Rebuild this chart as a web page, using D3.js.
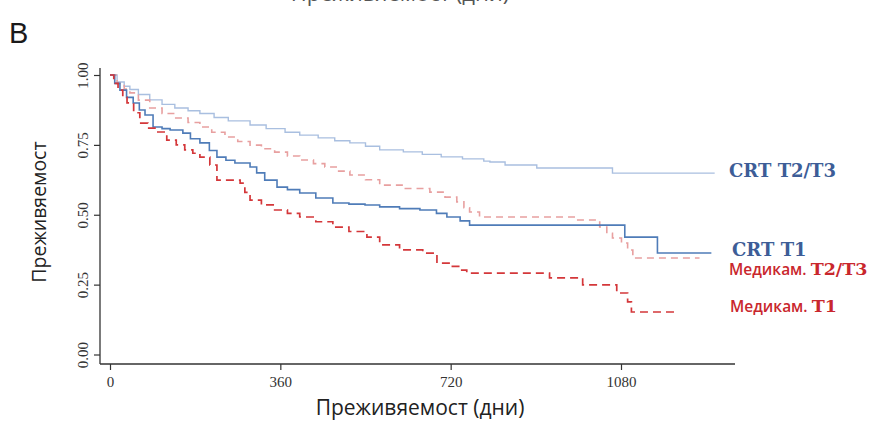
<!doctype html>
<html>
  <head>
    <meta content="text/html;charset=utf-8" http-equiv="Content-Type">
    <script src="https://d3js.org/d3.v7.min.js"></script>
    <style>body{margin:0;background:#fff;}</style>
  </head>
  <body>
    <script>
    // Kaplan-Meier steps: [day, survival]
    var crtT23 = [[0,1],[15,0.975],[30,0.96],[42,0.948],[60,0.93],[84,0.911],[110,0.895],[137,0.882],[165,0.872],
      [190,0.862],[220,0.848],[250,0.836],[296,0.821],[330,0.808],[370,0.795],[401,0.785],[440,0.775],[475,0.765],
      [507,0.757],[540,0.745],[570,0.732],[620,0.725],[660,0.716],[700,0.707],[745,0.7],[790,0.692],[803,0.689],
      [835,0.678],[902,0.667],[1062,0.649],[1278,0.649]];
    var crtT1 = [[0,1],[10,0.97],[21,0.946],[35,0.92],[49,0.9],[62,0.875],[74,0.857],[91,0.814],[110,0.808],
      [127,0.803],[154,0.792],[170,0.772],[190,0.757],[210,0.73],[226,0.706],[245,0.695],[264,0.685],[296,0.671],
      [310,0.65],[327,0.624],[353,0.599],[375,0.59],[401,0.578],[435,0.56],[471,0.542],[505,0.538],[539,0.535],
      [570,0.528],[612,0.522],[655,0.517],[690,0.505],[712,0.492],[740,0.478],[760,0.463],[1088,0.42],[1157,0.363],[1271,0.363]];
    var medT23 = [[0,1],[15,0.97],[30,0.95],[42,0.936],[60,0.91],[84,0.882],[110,0.862],[137,0.846],[165,0.83],
      [190,0.814],[215,0.795],[243,0.778],[270,0.762],[296,0.749],[320,0.736],[348,0.724],[375,0.71],[401,0.696],
      [430,0.683],[454,0.671],[480,0.656],[507,0.642],[540,0.625],[570,0.606],[620,0.594],[676,0.581],[708,0.563],
      [733,0.546],[748,0.525],[760,0.51],[781,0.492],[986,0.481],[1035,0.456],[1050,0.434],[1062,0.417],[1081,0.399],
      [1094,0.374],[1105,0.345],[1246,0.345]];
    var medT1 = [[0,1],[8,0.97],[17,0.946],[27,0.92],[36,0.9],[50,0.865],[63,0.828],[80,0.81],[95,0.796],[120,0.767],
      [140,0.75],[158,0.732],[175,0.72],[190,0.706],[211,0.678],[226,0.624],[275,0.613],[285,0.58],[296,0.552],
      [320,0.535],[348,0.517],[375,0.505],[401,0.492],[435,0.475],[471,0.456],[505,0.44],[543,0.42],[570,0.392],
      [612,0.374],[661,0.363],[691,0.327],[720,0.315],[739,0.302],[754,0.291],[929,0.274],[999,0.249],[1071,0.22],
      [1094,0.188],[1102,0.152],[1195,0.152]];

    var xTicks = [0, 360, 720, 1080];
    var yTicks = [0, 0.25, 0.5, 0.75, 1];
    var yTickLabels = ["0.00", "0.25", "0.50", "0.75", "1.00"];

    var width = 874, height = 422;

    var svg = d3.select("body").append("svg")
      .attr("width", width)
      .attr("height", height);

    var x = d3.scaleLinear().domain([0, 1080]).range([110, 621]);
    var y = d3.scaleLinear().domain([0, 1]).range([354.5, 75]);

    // cropped caption from the panel above
    svg.append("text")
      .attr("x", 400).attr("y", 1)
      .attr("text-anchor", "middle")
      .attr("font-family", "Open Sans").attr("font-size", 22)
      .attr("fill", "#555")
      .text("Преживяемост (дни)");

    svg.append("text")
      .attr("x", 9).attr("y", 43)
      .attr("font-family", "Liberation Sans").attr("font-size", 29)
      .attr("fill", "#1a1a1a")
      .text("B");

    // L shaped frame
    svg.append("line").attr("x1", 100).attr("x2", 100).attr("y1", 68).attr("y2", 364)
      .attr("stroke", "#333").attr("stroke-width", 1.3);
    svg.append("line").attr("x1", 100).attr("x2", 735).attr("y1", 364).attr("y2", 364)
      .attr("stroke", "#333").attr("stroke-width", 1.3);

    var gx = svg.append("g")
      .attr("transform", "translate(0,364)")
      .call(d3.axisBottom(x).tickValues(xTicks).tickSize(6).tickPadding(6).tickFormat(d3.format("d")));
    gx.select(".domain").remove();
    gx.selectAll("line").attr("stroke", "#333").attr("stroke-width", 1.2);
    gx.selectAll("text")
      .attr("font-family", "Liberation Serif").attr("font-size", 15).attr("fill", "#333");

    var gy = svg.append("g")
      .attr("transform", "translate(100,0)")
      .call(d3.axisLeft(y).tickValues(yTicks).tickSize(6).tickFormat(function(d, i) { return yTickLabels[i]; }));
    gy.select(".domain").remove();
    gy.selectAll("line").attr("stroke", "#333").attr("stroke-width", 1.2);
    gy.selectAll("text")
      .attr("x", null).attr("dy", null)
      .attr("transform", "translate(-12,0) rotate(-90)")
      .attr("text-anchor", "middle")
      .attr("font-family", "Liberation Serif").attr("font-size", 15).attr("fill", "#333");

    svg.append("text")
      .attr("transform", "translate(46,212) rotate(-90)")
      .attr("text-anchor", "middle")
      .attr("font-family", "Open Sans").attr("font-size", 19.5).attr("fill", "#222")
      .text("Преживяемост");

    svg.append("text")
      .attr("x", 420).attr("y", 415)
      .attr("text-anchor", "middle")
      .attr("font-family", "Open Sans").attr("font-size", 21).attr("fill", "#222")
      .text("Преживяемост (дни)");

    var line = d3.line()
      .x(function(d) { return x(d[0]); })
      .y(function(d) { return y(d[1]); })
      .curve(d3.curveStepAfter);

    var series = [
      {data: crtT23, color: "#a9bfe0", dash: null, w: 1.4},
      {data: medT23, color: "#e8a0a0", dash: "7,5", w: 1.6},
      {data: crtT1, color: "#4f7cb8", dash: null, w: 1.6},
      {data: medT1, color: "#d4373a", dash: "8,5", w: 1.7}
    ];

    svg.selectAll(".km").data(series).enter().append("path")
      .attr("class", "km")
      .attr("d", function(d) { return line(d.data); })
      .attr("fill", "none")
      .attr("stroke", function(d) { return d.color; })
      .attr("stroke-width", function(d) { return d.w; })
      .attr("stroke-dasharray", function(d) { return d.dash; });

    // curve labels
    var blue = "#3d5d97", red = "#c9272d";
    svg.append("text").attr("x", 729).attr("y", 177)
      .attr("font-family", "DejaVu Serif").attr("font-weight", "bold").attr("font-size", 18).attr("fill", blue)
      .text("CRT T2/T3");
    svg.append("text").attr("x", 732).attr("y", 256)
      .attr("font-family", "DejaVu Serif").attr("font-weight", "bold").attr("font-size", 18).attr("fill", blue)
      .text("CRT T1");

    var m1 = svg.append("text").attr("x", 729).attr("y", 275).attr("fill", red);
    m1.append("tspan").attr("font-family", "Open Sans").attr("font-weight", 600).attr("font-size", 15.5).text("Медикам. ");
    m1.append("tspan").attr("font-family", "DejaVu Serif").attr("font-weight", "bold").attr("font-size", 17.5).text("T2/T3");

    var m2 = svg.append("text").attr("x", 730).attr("y", 312).attr("fill", red);
    m2.append("tspan").attr("font-family", "Open Sans").attr("font-weight", 600).attr("font-size", 15.5).text("Медикам. ");
    m2.append("tspan").attr("font-family", "DejaVu Serif").attr("font-weight", "bold").attr("font-size", 17.5).text("T1");
    </script>
  </body>
</html>
